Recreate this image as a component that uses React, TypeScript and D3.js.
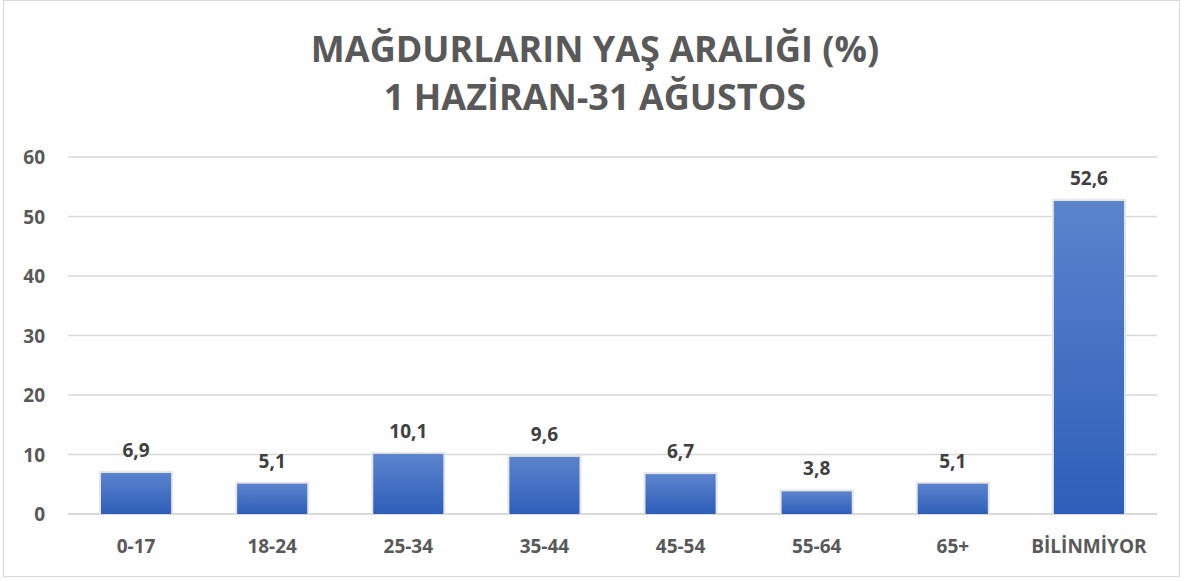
import React from "react";
import * as d3 from "d3";

const categories = ["0-17", "18-24", "25-34", "35-44", "45-54", "55-64", "65+", "BİLİNMİYOR"];
const values = [6.9, 5.1, 10.1, 9.6, 6.7, 3.8, 5.1, 52.6];
const valueLabels = ["6,9", "5,1", "10,1", "9,6", "6,7", "3,8", "5,1", "52,6"];
const yTicks = [0, 10, 20, 30, 40, 50, 60];
const titleLines = ["MAĞDURLARIN YAŞ ARALIĞI (%)", "1 HAZİRAN-31 AĞUSTOS"];

const W = 1184;
const H = 581;
const left = 68;
const right = 1157;
const top = 157;
const bottom = 514;
const font = "'Open Sans', 'DejaVu Sans', sans-serif";

export default function App() {
  const x = d3.scaleBand<string>().domain(categories).range([left, right]).paddingInner(0.485).paddingOuter(0.2425);
  const y = d3.scaleLinear().domain([0, 60]).range([bottom, top]);
  return (
    <svg width={W} height={H} style={{ position: "absolute", left: 0, top: 0, background: "#fff" }}>
      <defs>
        <linearGradient id="barGrad" x1="0" y1="0" x2="0" y2="1">
          <stop offset="0%" stopColor="#5B84CD" />
          <stop offset="100%" stopColor="#2E5EB9" />
        </linearGradient>
      </defs>
      <rect x={3.5} y={0.5} width={1176} height={576} fill="#fff" stroke="#d9d9d9" strokeWidth={1} />
      {titleLines.map((t, i) => (
        <text key={i} x={595} y={62 + i * 48} textAnchor="middle" fontFamily={font} fontWeight={700} fontSize={36} fill="#595959">
          {t}
        </text>
      ))}
      {yTicks.map((t) => (
        <g key={t}>
          <line x1={left} x2={right} y1={y(t)} y2={y(t)} stroke="#d9d9d9" strokeWidth={t === 0 ? 2 : 1.5} />
          <text x={45} y={y(t) + 7} textAnchor="end" fontFamily={font} fontWeight={700} fontSize={19} fill="#595959">
            {t}
          </text>
        </g>
      ))}
      {categories.map((c, i) => {
        const bx = x(c)!;
        const bw = x.bandwidth();
        const by = y(values[i]);
        return (
          <g key={c}>
            <rect x={bx - 2} y={by - 2} width={bw + 4} height={bottom - by + 2} fill="#e6e6e6" />
            <rect x={bx} y={by} width={bw} height={bottom - by} fill="url(#barGrad)" />
            <text x={bx + bw / 2} y={by - 16} textAnchor="middle" fontFamily={font} fontWeight={700} fontSize={19} fill="#404040">
              {valueLabels[i]}
            </text>
            <text x={bx + bw / 2} y={553} textAnchor="middle" fontFamily={font} fontWeight={700} fontSize={19} fill="#595959">
              {c}
            </text>
          </g>
        );
      })}
    </svg>
  );
}
